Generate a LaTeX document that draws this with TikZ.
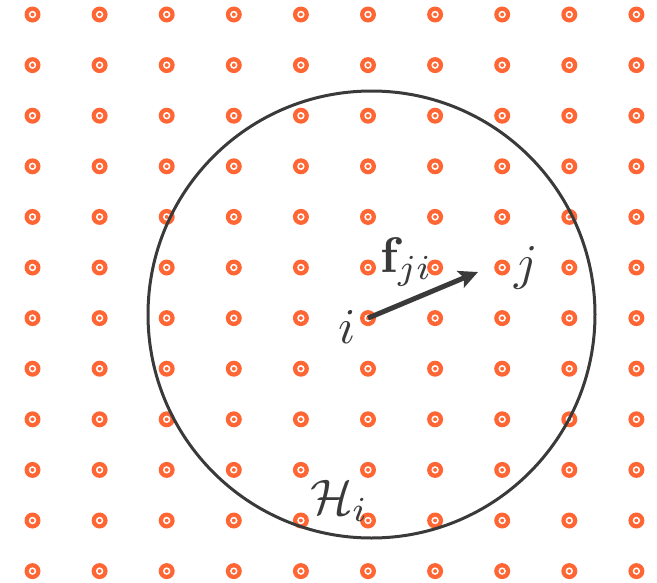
\documentclass[tikz,border=0pt]{standalone}
\usetikzlibrary{arrows.meta}
\definecolor{dotorange}{RGB}{255,102,51}
\definecolor{inkgray}{RGB}{58,58,58}
\tikzset{
  dot/.style={circle, fill=dotorange, inner sep=0pt, minimum size=16pt,
    path picture={\draw[white, line width=1.5pt] (path picture bounding box.center) circle (2.9pt);}},
  region/.style={circle, draw=inkgray, line width=3pt, inner sep=0pt, minimum size=447pt},
  force/.style={draw=inkgray, line width=5pt, -{Stealth[length=19pt, width=18pt, inset=4pt]}},
  lab/.style={text=inkgray, inner sep=0pt, scale=5},
}
\begin{document}
\begin{tikzpicture}[x=1pt, y=-1pt]
\useasboundingbox (0,0) rectangle (657,582);
\foreach \r in {0,...,11} {
  \foreach \c in {0,...,9} {
    \node[dot] (d-\r-\c) at ({32.5+67.1*\c},{14.5+50.6*\r}) {};
  }
}
\node[region] (H) at (371.5,314.5) {};
\coordinate (tip) at (478,272);
\draw[force] (d-6-5.center) -- (tip);
\node[lab, scale=1.0, anchor=base west] (f) at (379,272) {$\mathbf{f}_{ji}$};
\node[lab, anchor=base] (li) at (347,343) {$i$};
\node[lab, anchor=base west] (lj) at (513,279) {$j$};
\node[lab, anchor=base west] (lH) at (309,514) {$\mathcal{H}_i$};
\end{tikzpicture}
\end{document}
